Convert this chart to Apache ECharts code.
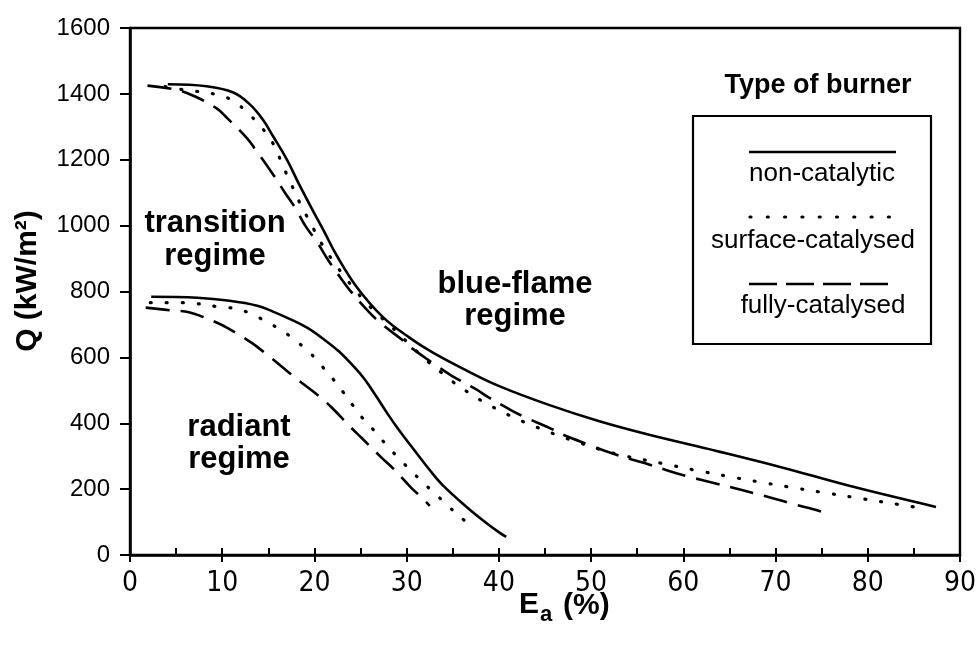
<!DOCTYPE html>
<html>
<head>
<meta charset="utf-8">
<script src="https://cdn.jsdelivr.net/npm/echarts@6/dist/echarts.min.js"></script>
<style>
  html, body { margin: 0; padding: 0; background: #fff; }
  #chart { width: 979px; height: 646px; }
</style>
</head>
<body>
<div id="chart"></div>
<script>
// Excess air Ea (%) and heat flux Q (kW/m2) along each burner curve.
// Upper branches: transition -> blue-flame boundary; lower branches: radiant boundary.
const nonCatUpperEa = [4.1, 8.3, 11.2, 13.0, 14.4, 15.5, 17.0, 18.4, 19.8, 21.0, 22.4, 24.6, 27.4, 30.3, 32.8, 36.5, 40.1, 45.5, 50.9, 56.3, 63.6, 70.7, 78.0, 87.4];
const nonCatUpperQ  = [1429, 1423, 1404, 1368, 1322, 1272, 1201, 1122, 1047, 985, 910, 813, 723, 660, 615, 560, 512, 455, 406, 365, 316, 266, 210, 146];

const surfCatUpperEa = [3.8, 5.7, 9.4, 11.3, 12.7, 14.0, 15.5, 16.6, 17.5, 18.4, 19.2, 20.0, 20.9, 22.0, 23.1, 24.2, 25.5, 26.9, 28.2, 30.0, 32.2, 33.8, 35.0, 36.6, 38.2, 39.9, 41.5, 43.3, 45.2, 46.9, 48.7, 51.0, 53.8, 57.7, 61.2, 64.8, 68.6, 72.2, 75.8, 79.6, 83.2, 85.0];
const surfCatUpperQ  = [1422, 1413, 1398, 1377, 1343, 1307, 1250, 1180, 1125, 1070, 1027, 985, 940, 893, 851, 812, 769, 730, 697, 648, 590, 553, 526, 495, 467, 441, 419, 397, 376, 358, 341, 320, 300, 278, 258, 239, 220, 203, 187, 170, 154, 146];

const fullCatUpperEa = [1.9, 4.9, 6.8, 9.4, 10.6, 12.7, 13.5, 15.4, 16.8, 18.0, 19.0, 20.4, 21.5, 23.0, 23.8, 26.0, 27.4, 29.8, 30.7, 33.6, 34.9, 37.6, 38.8, 41.5, 43.1, 45.7, 46.9, 50.1, 51.7, 54.4, 55.8, 58.8, 60.4, 63.4, 65.0, 67.9, 69.5, 72.3, 74.0, 75.2];
const fullCatUpperQ  = [1425, 1413, 1395, 1356, 1325, 1265, 1235, 1160, 1100, 1050, 1000, 945, 895, 835, 805, 735, 699, 647, 625, 568, 544, 502, 480, 437, 415, 383, 366, 331, 314, 290, 279, 252, 239, 218, 207, 186, 174, 152, 140, 130];

const nonCatLowerEa = [2.3, 7.3, 10.8, 13.8, 15.5, 17.3, 19.2, 21.1, 22.7, 24.2, 25.4, 26.7, 27.9, 29.2, 31.0, 32.5, 33.9, 36.5, 38.5, 40.1, 40.8];
const nonCatLowerQ  = [784, 781, 772, 757, 739, 717, 690, 653, 617, 574, 535, 482, 430, 378, 312, 258, 212, 146, 100, 67, 55];

const surfCatLowerEa = [2.2, 5.7, 9.5, 11.4, 13.2, 14.8, 16.5, 18.0, 19.4, 20.6, 21.9, 23.1, 24.2, 25.3, 26.6, 27.8, 29.1, 30.4, 31.7, 33.0, 34.4, 35.8, 37.3];
const surfCatLowerQ  = [766, 766, 754, 748, 732, 708, 681, 650, 617, 580, 538, 495, 453, 413, 374, 334, 295, 258, 222, 188, 152, 115, 85];

const fullCatLowerEa = [1.7, 4.7, 6.4, 9.2, 10.7, 13.2, 14.6, 16.9, 18.2, 20.6, 21.9, 24.0, 25.1, 27.3, 28.5, 30.5, 31.7, 32.5];
const fullCatLowerQ  = [751, 742, 737, 708, 687, 644, 614, 562, 532, 480, 447, 386, 356, 295, 264, 204, 173, 149];

const xTicks = { min: 0, max: 90, step: 10 };
const yTicks = { min: 0, max: 1600, step: 200 };

const burnerNames = ['non-catalytic', 'surface-catalysed', 'fully-catalysed'];
const regimeLabels = ['transition\nregime', 'radiant\nregime', 'blue-flame\nregime'];

const SANS = '"Liberation Sans", Arial, Helvetica, sans-serif';
const NARROW = '"Liberation Sans Narrow", "Arial Narrow", "DejaVu Sans Condensed", sans-serif';

const lineStyles = {
  solid:  { color: '#000', width: 2.6, type: 'solid' },
  dotted: { color: '#000', width: 3.2, type: [1, 15], cap: 'round' },
  dashed: { color: '#000', width: 2.6, type: [24, 11], cap: 'butt' }
};

function zip(xs, ys) { return xs.map((x, i) => [x, ys[i]]); }

function curve(name, xs, ys, style) {
  return {
    name: name,
    type: 'line',
    data: zip(xs, ys),
    smooth: 0.4,
    symbol: 'none',
    showSymbol: false,
    silent: true,
    lineStyle: style
  };
}

const chart = echarts.init(document.getElementById('chart'), null, { renderer: 'canvas' });

const grid = { left: 130, right: 18, top: 28, bottom: 91 };

// legend panel built from plain shapes
const legendBox = { x: 693, y: 116, w: 238, h: 228 };
const legendGraphics = [
  { type: 'rect', shape: { x: legendBox.x, y: legendBox.y, width: legendBox.w, height: legendBox.h },
    style: { fill: null, stroke: '#000', lineWidth: 2.2 } },
  { type: 'text', x: 818, y: 86, style: { text: 'Type of burner', font: 'bold 27px ' + SANS, fill: '#000', align: 'center', verticalAlign: 'middle' } },
  { type: 'line', shape: { x1: 749, y1: 152, x2: 896, y2: 152 }, style: { stroke: '#000', lineWidth: 2.6 } },
  { type: 'text', x: 822, y: 174, style: { text: burnerNames[0], font: '26px ' + SANS, fill: '#000', align: 'center', verticalAlign: 'middle' } },
  { type: 'line', shape: { x1: 750, y1: 217, x2: 890, y2: 217 }, style: { stroke: '#000', lineWidth: 3.2, lineDash: [1, 16.3], lineCap: 'round' } },
  { type: 'text', x: 813, y: 241, style: { text: burnerNames[1], font: '26px ' + SANS, fill: '#000', align: 'center', verticalAlign: 'middle' } },
  { type: 'line', shape: { x1: 749, y1: 284, x2: 888, y2: 284 }, style: { stroke: '#000', lineWidth: 2.6, lineDash: [28, 9] } },
  { type: 'text', x: 823, y: 306, style: { text: burnerNames[2], font: '26px ' + SANS, fill: '#000', align: 'center', verticalAlign: 'middle' } }
];

const regimeGraphics = [
  { type: 'text', x: 215, y: 240, style: { text: regimeLabels[0], font: 'bold 31px ' + SANS, lineHeight: 33, fill: '#000', align: 'center', verticalAlign: 'middle' } },
  { type: 'text', x: 239, y: 443, style: { text: regimeLabels[1], font: 'bold 31px ' + SANS, lineHeight: 32, fill: '#000', align: 'center', verticalAlign: 'middle' } },
  { type: 'text', x: 515, y: 300, style: { text: regimeLabels[2], font: 'bold 31px ' + SANS, lineHeight: 32, fill: '#000', align: 'center', verticalAlign: 'middle' } }
];

const titleGraphics = [
  { type: 'text', x: 28, y: 281, rotation: Math.PI / 2,
    style: { text: 'Q (kW/m²)', font: 'bold 30px ' + SANS, fill: '#000', align: 'center', verticalAlign: 'middle' } },
  { type: 'text', x: 519, y: 605, style: { text: 'E', font: 'bold 30px ' + SANS, fill: '#000', align: 'left', verticalAlign: 'middle' } },
  { type: 'text', x: 540, y: 615, style: { text: 'a', font: 'bold 22px ' + SANS, fill: '#000', align: 'left', verticalAlign: 'middle' } },
  { type: 'text', x: 563, y: 606, style: { text: '(%)', font: 'bold 30px ' + SANS, fill: '#000', align: 'left', verticalAlign: 'middle' } }
];

chart.setOption({
  animation: false,
  backgroundColor: '#fff',
  grid: Object.assign({ show: true, borderColor: '#000', borderWidth: 2.4, backgroundColor: 'transparent' }, grid),
  xAxis: [
    {
      type: 'value', min: xTicks.min, max: xTicks.max, interval: xTicks.step,
      axisLine: { show: true, onZero: false, lineStyle: { color: '#000', width: 2.6 } },
      axisTick: { show: true, inside: false, length: 7, lineStyle: { color: '#000', width: 2 } },
      axisLabel: { show: true, margin: 15, color: '#000', fontFamily: NARROW, fontSize: 28 },
      splitLine: { show: false }
    },
    {
      // inner ticks every 5 %
      type: 'value', min: xTicks.min, max: xTicks.max, interval: xTicks.step / 2, position: 'bottom',
      axisLine: { show: false },
      axisTick: { show: true, inside: true, length: 7, lineStyle: { color: '#000', width: 2 } },
      axisLabel: { show: false },
      splitLine: { show: false }
    }
  ],
  yAxis: {
    type: 'value', min: yTicks.min, max: yTicks.max, interval: yTicks.step,
    axisLine: { show: true, onZero: false, lineStyle: { color: '#000', width: 2.6 } },
    axisTick: { show: true, inside: false, length: 10, lineStyle: { color: '#000', width: 2 } },
    axisLabel: { show: true, margin: 20, color: '#000', fontFamily: SANS, fontSize: 24, formatter: v => String(v) },
    splitLine: { show: false }
  },
  series: [
    curve(burnerNames[0], nonCatUpperEa, nonCatUpperQ, lineStyles.solid),
    curve(burnerNames[0], nonCatLowerEa, nonCatLowerQ, lineStyles.solid),
    curve(burnerNames[1], surfCatUpperEa, surfCatUpperQ, lineStyles.dotted),
    curve(burnerNames[1], surfCatLowerEa, surfCatLowerQ, lineStyles.dotted),
    curve(burnerNames[2], fullCatUpperEa, fullCatUpperQ, lineStyles.dashed),
    curve(burnerNames[2], fullCatLowerEa, fullCatLowerQ, lineStyles.dashed)
  ],
  graphic: [].concat(legendGraphics, regimeGraphics, titleGraphics)
});
</script>
</body>
</html>
